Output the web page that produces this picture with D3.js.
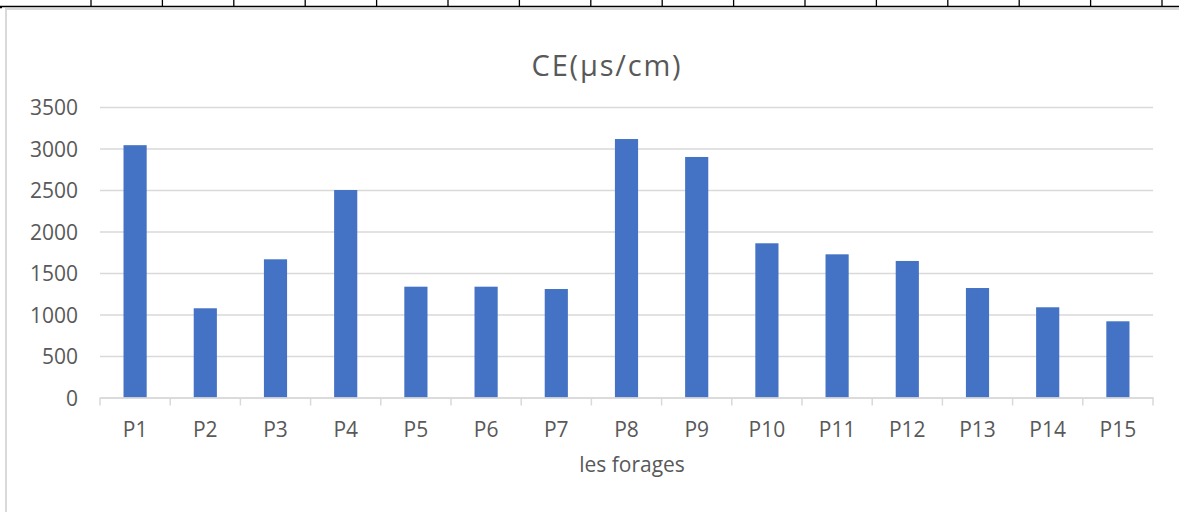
<!DOCTYPE html>
<html>
<head>
<meta charset="utf-8">
<script src="https://cdn.jsdelivr.net/npm/d3@7"></script>
<style>
  body { margin: 0; background: #fff; }
  svg { display: block; font-family: "Open Sans", sans-serif; }
</style>
</head>
<body>
<div id="chart"></div>
<script>
// Data
const categories = ["P1", "P2", "P3", "P4", "P5", "P6", "P7", "P8", "P9", "P10", "P11", "P12", "P13", "P14", "P15"];
const ceValues = [3040, 1075, 1665, 2500, 1335, 1335, 1307, 3114, 2898, 1858, 1725, 1645, 1319, 1087, 918];
const yTicks = [0, 500, 1000, 1500, 2000, 2500, 3000, 3500];
const chartTitle = "CE(\u00b5s/cm)";
const xTitle = "les forages";

// Set dimensions
const W = 1179;
const H = 512;
const plot = {left: 100, right: 1153, top: 107, bottom: 397.5};
const textColor = "#595959";
const gridColor = "#d9d9d9";
const font = "'Open Sans', sans-serif";

const svg = d3
  .select("#chart")
  .append("svg")
  .attr("width", W)
  .attr("height", H);

// spreadsheet grid peeking above the chart
svg.append("line")
  .attr("x1", 0).attr("x2", W)
  .attr("y1", 6.5).attr("y2", 6.5)
  .attr("stroke", "#000").attr("stroke-width", 1.5);
d3.range(0, 16).forEach((i) => {
  const gx = 91 + i * 71.4;
  svg.append("line")
    .attr("x1", gx).attr("x2", gx)
    .attr("y1", 0).attr("y2", 6)
    .attr("stroke", "#000").attr("stroke-width", 1.3);
});
svg.append("line")
  .attr("x1", 0).attr("x2", 2)
  .attr("y1", 7.5).attr("y2", 7.5)
  .attr("stroke", "#000").attr("stroke-width", 1.5);

// chart area border
svg.append("rect")
  .attr("x", 6)
  .attr("y", 9)
  .attr("width", W + 20)
  .attr("height", H + 20)
  .attr("fill", "#fff")
  .attr("stroke", gridColor)
  .attr("stroke-width", 2);

// Set scales
const x = d3.scaleBand().domain(categories).range([plot.left, plot.right]).padding(0);

const y = d3.scaleLinear().domain([0, 3500]).range([plot.bottom, plot.top]);

// Gridlines + y labels
svg
  .append("g")
  .attr("class", "y-axis")
  .attr("transform", `translate(${plot.left},0)`)
  .call(
    d3.axisLeft(y)
      .tickValues(yTicks)
      .tickFormat((d) => d)
      .tickSize(-(plot.right - plot.left))
      .tickPadding(22)
  )
  .attr("font-family", font)
  .call((g) => g.select(".domain").remove())
  .call((g) => g.selectAll(".tick line")
    .attr("stroke", gridColor)
    .attr("stroke-width", 1.5))
  .call((g) => g.selectAll(".tick text")
    .attr("fill", textColor)
    .attr("dy", "0.36em")
    .style("font-size", "21px"));

// Bars
const barW = x.bandwidth() * 0.33;
svg
  .append("g")
  .selectAll("rect")
  .data(ceValues)
  .enter()
  .append("rect")
  .attr("x", (d, i) => x(categories[i]) + (x.bandwidth() - barW) / 2)
  .attr("y", (d) => y(d))
  .attr("width", barW)
  .attr("height", (d) => y(0) - y(d))
  .attr("fill", "#4472c4");

// X axis
const xAxis = svg
  .append("g")
  .attr("class", "x-axis")
  .attr("transform", `translate(0,${plot.bottom})`)
  .call(d3.axisBottom(x).tickSize(0).tickSizeOuter(0))
  .attr("font-family", font)
  .call((g) => g.select(".domain").attr("stroke", gridColor).attr("stroke-width", 1.5))
  .call((g) => g.selectAll(".tick text")
    .attr("fill", textColor)
    .attr("y", 39)
    .attr("dy", 0)
    .style("font-size", "21px"));

// boundary ticks between categories
xAxis
  .selectAll(".sep")
  .data(d3.range(categories.length + 1))
  .enter()
  .append("line")
  .attr("class", "sep")
  .attr("x1", (i) => plot.left + i * x.step())
  .attr("x2", (i) => plot.left + i * x.step())
  .attr("y1", 0)
  .attr("y2", 8)
  .attr("stroke", gridColor)
  .attr("stroke-width", 1.5);

// Titles
svg
  .append("text")
  .attr("x", 607)
  .attr("y", 76)
  .attr("text-anchor", "middle")
  .attr("fill", textColor)
  .style("font-size", "29px")
  .style("letter-spacing", "1.8px")
  .text(chartTitle);

svg
  .append("text")
  .attr("x", 632)
  .attr("y", 472)
  .attr("text-anchor", "middle")
  .attr("fill", textColor)
  .style("font-size", "21px")
  .text(xTitle);
</script>
</body>
</html>
